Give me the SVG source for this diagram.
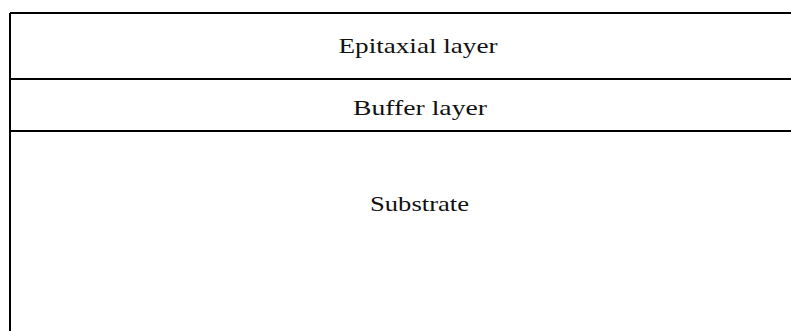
<svg xmlns="http://www.w3.org/2000/svg" width="791" height="331" viewBox="0 0 791 331">
<style>
.ln{stroke:#000;stroke-width:2;fill:none}
.t{font-family:"Liberation Serif","Times New Roman",serif;font-size:22px;fill:#111;text-anchor:middle}
</style>
<rect width="791" height="331" fill="#fff"/>
<g id="epitaxial">
<path class="ln" d="M10,13 H791 M10,13 V79"/>
<text class="t" x="418" y="53" textLength="159" lengthAdjust="spacingAndGlyphs">Epitaxial layer</text>
</g>
<g id="buffer">
<path class="ln" d="M10,79 H791 M10,79 V131"/>
<text class="t" x="420" y="115" textLength="134" lengthAdjust="spacingAndGlyphs">Buffer layer</text>
</g>
<g id="substrate">
<path class="ln" d="M10,131 H791 M10,131 V331"/>
<text class="t" x="419.5" y="211" textLength="99" lengthAdjust="spacingAndGlyphs">Substrate</text>
</g>
</svg>
